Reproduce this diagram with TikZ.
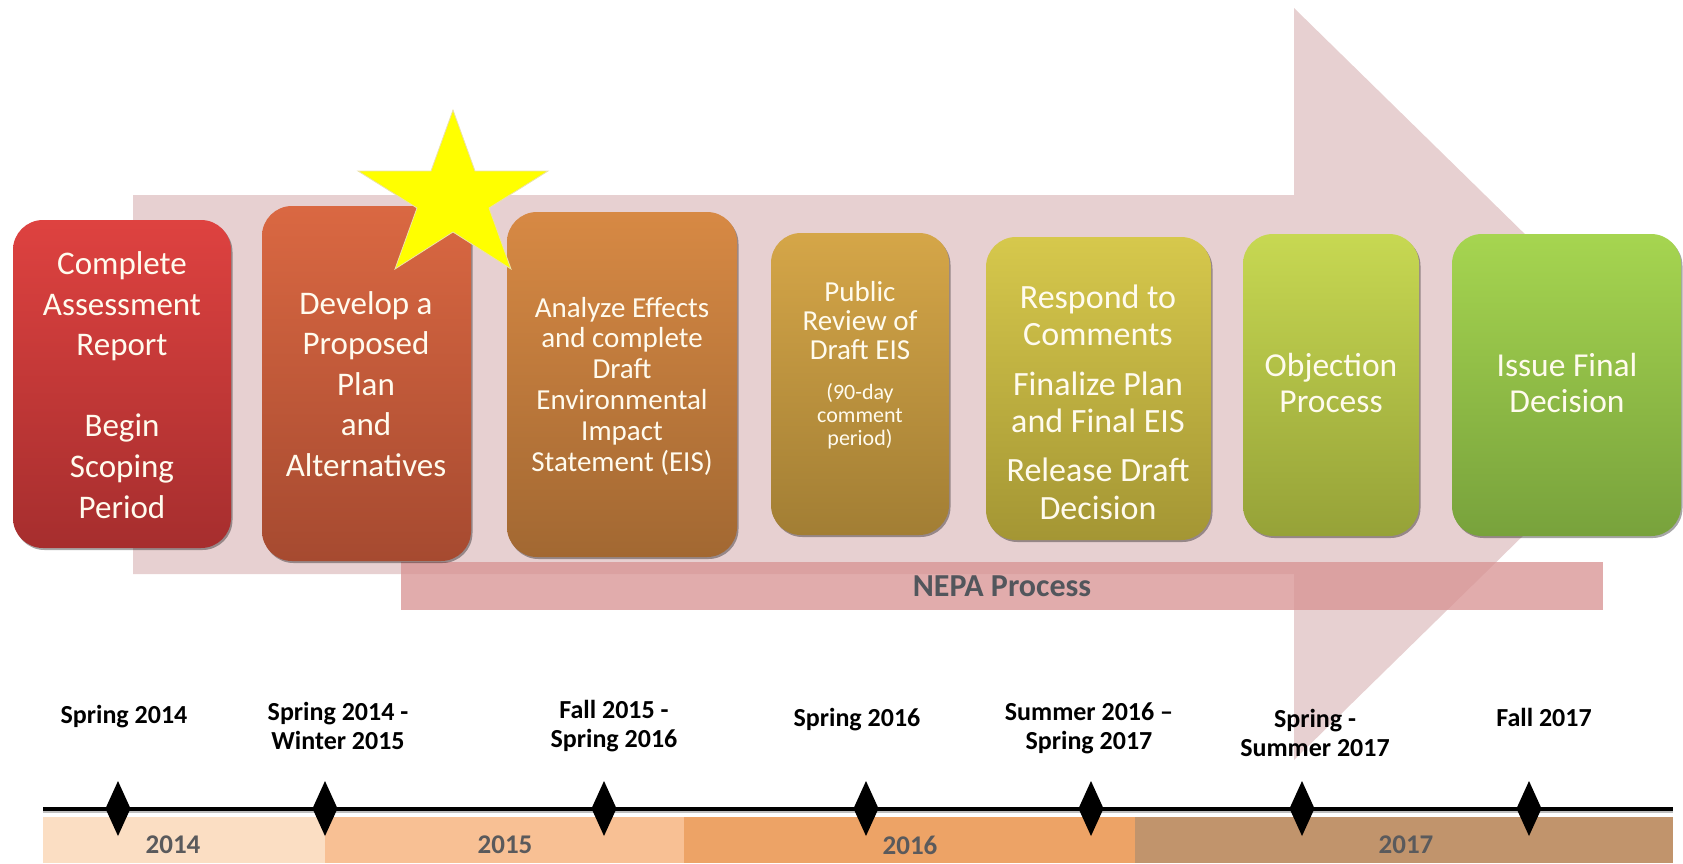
\documentclass[tikz,border=0pt]{standalone}
\usepackage{fontspec}
\setmainfont{Carlito}
\usetikzlibrary{shadows}
\definecolor{arrowc}{RGB}{231,208,209}
\definecolor{nepac}{RGB}{216,147,147}
\definecolor{nepatext}{RGB}{82,86,92}
\definecolor{yeartext}{RGB}{90,90,92}
\definecolor{boxtextc}{RGB}{255,251,238}
\definecolor{b1t}{RGB}{222,66,64}\definecolor{b1b}{RGB}{166,46,46}
\definecolor{b2t}{RGB}{218,104,66}\definecolor{b2b}{RGB}{166,74,48}
\definecolor{b3t}{RGB}{215,137,68}\definecolor{b3b}{RGB}{162,104,50}
\definecolor{b4t}{RGB}{213,166,72}\definecolor{b4b}{RGB}{162,126,52}
\definecolor{b5t}{RGB}{214,200,76}\definecolor{b5b}{RGB}{164,150,52}
\definecolor{b6t}{RGB}{199,216,82}\definecolor{b6b}{RGB}{150,162,56}
\definecolor{b7t}{RGB}{166,213,80}\definecolor{b7b}{RGB}{120,162,60}
\definecolor{y14}{RGB}{251,222,195}
\definecolor{y15}{RGB}{248,192,148}
\definecolor{y16}{RGB}{237,163,102}
\definecolor{y17}{RGB}{193,148,108}
\definecolor{stary}{RGB}{255,255,0}
\begin{document}
\begin{tikzpicture}[x=1pt,y=-1pt,
  stepbox/.style={rounded corners=30pt, inner sep=0pt,
    drop shadow={shadow xshift=1.5pt, shadow yshift=-2pt, opacity=0.35, fill=black}},
  boxtext/.style={text=boxtextc, align=center, inner sep=0pt},
  datelabel/.style={align=center, inner sep=0pt, font=\bfseries\fontsize{26}{29}\selectfont},
  yearlabel/.style={text=yeartext, inner sep=0pt, font=\bfseries\fontsize{27}{30}\selectfont},
  band/.style={inner sep=0pt, minimum height=46pt, anchor=north west}
]
\useasboundingbox (0,0) rectangle (1683,863);

% big background arrow
\fill[arrowc] (133,195) -- (1294,195) -- (1294,8) -- (1678,384) -- (1294,760) -- (1294,574) -- (133,574) -- cycle;

% NEPA bar
\node[fill=nepac, fill opacity=0.77, text opacity=1, text=nepatext, inner sep=0pt,
  minimum width=1202pt, minimum height=48pt,
  font=\bfseries\fontsize{32}{36}\selectfont] (nepa) at (1002,586) {\raisebox{-2pt}{NEPA Process}};

% step boxes
\node[stepbox, top color=b1t, bottom color=b1b, minimum width=218pt, minimum height=328pt] (b1) at (122,384) {};
\node[stepbox, top color=b2t, bottom color=b2b, minimum width=209pt, minimum height=355pt] (b2) at (366.5,383.5) {};
\node[stepbox, top color=b3t, bottom color=b3b, minimum width=230pt, minimum height=345pt] (b3) at (622,384.5) {};
\node[stepbox, top color=b4t, bottom color=b4b, minimum width=178pt, minimum height=302pt] (b4) at (860,384) {};
\node[stepbox, top color=b5t, bottom color=b5b, minimum width=225pt, minimum height=303pt] (b5) at (1098.5,388.5) {};
\node[stepbox, top color=b6t, bottom color=b6b, minimum width=176pt, minimum height=302pt] (b6) at (1331,385) {};
\node[stepbox, top color=b7t, bottom color=b7b, minimum width=229pt, minimum height=302pt] (b7) at (1566.5,385) {};

% box texts
\node[boxtext, font=\fontsize{33}{40.6}\selectfont] (t1) at (122,385)
  {Complete\\Assessment\\Report\\[40.6pt]Begin\\Scoping\\Period};
\node[boxtext, font=\fontsize{33}{40.5}\selectfont] (t2) at (366,384)
  {Develop a\\Proposed\\Plan\\and\\Alternatives};
\node[boxtext, font=\fontsize{29}{30.8}\selectfont] (t3) at (622,386)
  {Analyze Effects\\and complete\\Draft\\Environmental\\Impact\\Statement (EIS)};
\node[boxtext, font=\fontsize{29}{29}\selectfont] (t4a) at (860,321)
  {Public\\Review of\\Draft EIS};
\node[boxtext, font=\fontsize{22}{23}\selectfont] (t4b) at (860,416)
  {(90-day\\comment\\period)};
\node[boxtext, font=\fontsize{34}{37.5}\selectfont] (t5) at (1098,402)
  {Respond to\\Comments\\[12pt]Finalize Plan\\and Final EIS\\[11.5pt]Release Draft\\Decision};
\node[boxtext, font=\fontsize{33.5}{36}\selectfont] (t6) at (1331,383)
  {Objection\\Process};
\node[boxtext, font=\fontsize{33.5}{36}\selectfont] (t7) at (1567,383)
  {Issue Final\\Decision};

% star
\filldraw[fill=stary, draw={rgb,255:red,235;green,225;blue,170}, line width=0.8pt, line join=miter]
  (453,110) -- (475,171) -- (548,171) -- (489,208) -- (511,269) -- (453,232)
  -- (395,269) -- (417,208) -- (358,171) -- (431,171) -- cycle;

% timeline year bands
\node[band, fill=y14, minimum width=282pt] (band14) at (43,817) {};
\node[band, fill=y15, minimum width=359pt] (band15) at (325,817) {};
\node[band, fill=y16, minimum width=451pt] (band16) at (684,817) {};
\node[band, fill=y17, minimum width=538pt] (band17) at (1135,817) {};
\node[yearlabel] (l14) at (173,845) {2014};
\node[yearlabel] (l15) at (505,845) {2015};
\node[yearlabel] (l16) at (910,845) {2016};
\node[yearlabel] (l17) at (1406,845) {2017};

% timeline line
\coordinate (tlL) at (43,809);
\coordinate (tlR) at (1673,809);
\draw[black!25, line width=2pt] ([yshift=-3pt]tlL) -- ([yshift=-3pt]tlR);
\draw[black, line width=4pt] (tlL) -- (tlR);

% diamonds
\foreach \x/\n in {118/d1,325/d2,604/d3,866/d4,1091/d5,1302/d6,1529/d7}{
  \fill[black] (\x,781) -- (\x+12.5,808.5) -- (\x,836) -- (\x-12.5,808.5) -- cycle;
}

% date labels
\node[datelabel] (m1) at (124,717) {Spring 2014};
\node[datelabel] (m2) at (338,726) {Spring 2014 -\\Winter 2015};
\node[datelabel] (m3) at (614,726) {Fall 2015 -\\Spring 2016};
\node[datelabel] (m4) at (857,720) {Spring 2016};
\node[datelabel] (m5) at (1089,728) {Summer 2016 –\\Spring 2017};
\node[datelabel] (m6) at (1315,733) {Spring -\\Summer 2017};
\node[datelabel] (m7) at (1544,717) {Fall 2017};
\end{tikzpicture}
\end{document}
